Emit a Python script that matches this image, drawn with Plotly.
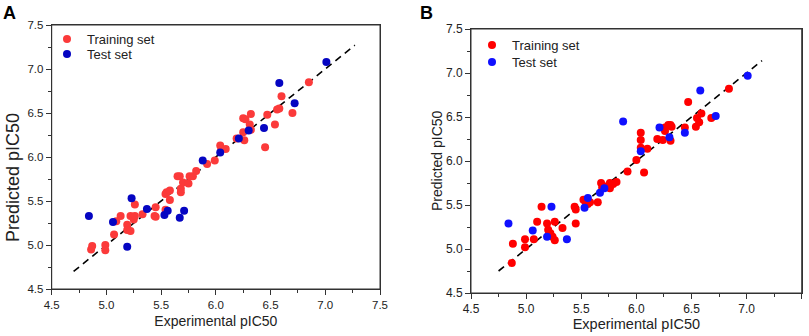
import plotly.graph_objects as go

# ---------------- Panel A data ----------------
train_exp_A = [4.86, 4.87, 4.99, 4.99, 5.07, 5.09, 5.13, 5.19, 5.19, 5.22, 5.22, 5.25, 5.26, 5.26,
               5.33, 5.44, 5.45, 5.45, 5.54, 5.55, 5.58, 5.58, 5.54, 5.65, 5.67, 5.68, 5.68, 5.70,
               5.75, 5.76, 5.79, 5.82, 5.92, 5.99, 6.04, 6.05, 6.09, 6.19, 6.25, 6.27, 6.26, 6.25,
               6.31, 6.32, 6.32, 6.45, 6.47, 6.54, 6.56, 6.58, 6.60, 6.70, 6.85]
train_pred_A = [4.95, 4.99, 5.00, 4.94, 5.12, 5.27, 5.33, 5.23, 5.17, 5.16, 5.33, 5.29, 5.33, 5.46,
                5.35, 5.33, 5.43, 5.32, 5.58, 5.60, 5.62, 5.51, 5.40, 5.78, 5.78, 5.64, 5.60, 5.71,
                5.70, 5.78, 5.78, 5.84, 5.92, 5.96, 6.13, 6.09, 6.09, 6.21, 6.44, 6.43, 6.19, 6.28,
                6.37, 6.49, 6.31, 6.11, 6.48, 6.37, 6.54, 6.55, 6.69, 6.50, 6.85]
test_exp_A = [4.84, 5.06, 5.19, 5.23, 5.37, 5.53, 5.56, 5.67, 5.71, 5.88, 6.04, 6.21, 6.30, 6.44,
              6.58, 6.72, 7.01]
test_pred_A = [5.33, 5.26, 4.98, 5.53, 5.41, 5.34, 5.39, 5.31, 5.39, 5.96, 6.05, 6.21, 6.30, 6.33,
               6.84, 6.61, 7.08]
line_A = [4.70, 7.27]

# ---------------- Panel B data ----------------
train_exp_B = [4.87, 4.88, 4.99, 4.99, 5.07, 5.10, 5.14, 5.19, 5.20, 5.22, 5.24, 5.26, 5.26, 5.33,
               5.44, 5.45, 5.45, 5.52, 5.54, 5.56, 5.58, 5.65, 5.68, 5.69, 5.72, 5.76, 5.76, 5.79,
               5.82, 5.92, 6.00, 6.04, 6.04, 6.04, 6.07, 6.10, 6.19, 6.24, 6.26, 6.26, 6.29, 6.31,
               6.32, 6.31, 6.44, 6.47, 6.54, 6.55, 6.57, 6.59, 6.68, 6.84]
train_pred_B = [4.84, 5.06, 5.11, 5.02, 5.11, 5.31, 5.48, 5.29, 5.22, 5.18, 5.14, 5.10, 5.31, 5.24,
                5.48, 5.45, 5.29, 5.56, 5.53, 5.51, 5.53, 5.53, 5.75, 5.70, 5.71, 5.75, 5.69, 5.74,
                5.76, 5.88, 6.01, 6.32, 6.24, 6.15, 5.87, 6.14, 6.25, 6.24, 6.34, 6.38, 6.41, 6.41,
                6.39, 6.23, 6.38, 6.67, 6.39, 6.49, 6.44, 6.54, 6.49, 6.82]
test_exp_B = [4.84, 5.06, 5.19, 5.23, 5.37, 5.53, 5.56, 5.67, 5.71, 5.88, 6.04, 6.21, 6.30, 6.44,
              6.58, 6.72, 7.01]
test_pred_B = [5.29, 5.21, 5.14, 5.48, 5.11, 5.47, 5.58, 5.64, 5.69, 6.45, 6.11, 6.38, 6.27, 6.32,
               6.80, 6.51, 6.97]
line_B = [4.75, 7.14]

axis_ticks = [4.5, 5.0, 5.5, 6.0, 6.5, 7.0, 7.5]
tick_text = ["4.5", "5.0", "5.5", "6.0", "6.5", "7.0", "7.5"]

FONT = "Liberation Sans, Arial, sans-serif"
W, H = 809, 336

fig = go.Figure()

# Panel A
fig.add_trace(go.Scatter(x=line_A, y=line_A, mode="lines", showlegend=False,
                         line=dict(color="black", width=1.6, dash="7px,5px"),
                         xaxis="x", yaxis="y"))
fig.add_trace(go.Scatter(x=train_exp_A, y=train_pred_A, mode="markers", name="Training set",
                         marker=dict(color="#fb3a3a", size=8), xaxis="x", yaxis="y",
                         legend="legend"))
fig.add_trace(go.Scatter(x=test_exp_A, y=test_pred_A, mode="markers", name="Test set",
                         marker=dict(color="#0505c2", size=8), xaxis="x", yaxis="y",
                         legend="legend2"))

# Panel B
fig.add_trace(go.Scatter(x=line_B, y=line_B, mode="lines", showlegend=False,
                         line=dict(color="black", width=1.6, dash="7px,5px"),
                         xaxis="x2", yaxis="y2"))
fig.add_trace(go.Scatter(x=train_exp_B, y=train_pred_B, mode="markers", name="Training set",
                         marker=dict(color="#ff0000", size=8), xaxis="x2", yaxis="y2",
                         legend="legend3"))
fig.add_trace(go.Scatter(x=test_exp_B, y=test_pred_B, mode="markers", name="Test set",
                         marker=dict(color="#1010ff", size=8), xaxis="x2", yaxis="y2",
                         legend="legend4"))


def px_x(p):
    return p / W


def px_y(p):
    return 1 - p / H


def axis_common(tick_size, title="", title_size=14, standoff=6):
    return dict(
        range=[4.5, 7.5], tickvals=axis_ticks, ticktext=tick_text,
        ticks="outside", ticklen=5, tickwidth=1, tickcolor="#333",
        minor=dict(dtick=0.25, tick0=4.5, ticks="outside", ticklen=3, tickcolor="#333"),
        showline=True, linecolor="#333", linewidth=1, mirror=True,
        showgrid=False, zeroline=False, automargin=False,
        tickfont=dict(family=FONT, size=tick_size, color="#222"),
        title=dict(text=title, font=dict(family=FONT, size=title_size, color="#222"),
                   standoff=standoff),
    )


xa = axis_common(11.5, "Experimental pIC50", 14)
xa.update(domain=[px_x(51.7), px_x(380)], anchor="y")
ya = axis_common(11.5)
ya.update(domain=[px_y(289), px_y(25)], anchor="x")
xb = axis_common(12, "Experimental pIC50", 14.5, 2)
xb.update(domain=[px_x(471), px_x(801.7)], anchor="y2")
yb = axis_common(12)
yb.update(domain=[px_y(293), px_y(29)], anchor="x2")

legend_style = dict(font=dict(family=FONT, size=13, color="#222"), bgcolor="rgba(0,0,0,0)",
                    itemwidth=30, tracegroupgap=0, xanchor="left", yanchor="top")

fig.update_layout(
    width=W, height=H,
    margin=dict(l=0, r=0, t=0, b=0, autoexpand=False),
    paper_bgcolor="white", plot_bgcolor="white",
    xaxis=xa, yaxis=ya, xaxis2=xb, yaxis2=yb,
    legend=dict(x=px_x(47), y=px_y(24), **legend_style),
    legend2=dict(x=px_x(47), y=px_y(39), **legend_style),
    legend3=dict(x=px_x(472), y=px_y(30), **legend_style),
    legend4=dict(x=px_x(472), y=px_y(47), **legend_style),
    shapes=[
        dict(type="rect", xref="x domain", yref="y domain", x0=0, x1=1, y0=0, y1=1,
             line=dict(color="#333", width=1), layer="above"),
        dict(type="rect", xref="x2 domain", yref="y2 domain", x0=0, x1=1, y0=0, y1=1,
             line=dict(color="#333", width=1), layer="above"),
    ],
    annotations=[
        dict(text="<b>A</b>", x=px_x(1), y=px_y(1), xref="paper", yref="paper",
             xanchor="left", yanchor="top", showarrow=False,
             font=dict(family=FONT, size=18, color="black")),
        dict(text="<b>B</b>", x=px_x(418), y=px_y(1), xref="paper", yref="paper",
             xanchor="left", yanchor="top", showarrow=False,
             font=dict(family=FONT, size=18, color="black")),
        dict(text="Predicted pIC50", x=px_x(13), y=px_y(178), xref="paper", yref="paper",
             xanchor="center", yanchor="middle", textangle=-90, showarrow=False,
             font=dict(family=FONT, size=18, color="#222")),
        dict(text="Predicted pIC50", x=px_x(437), y=px_y(161), xref="paper", yref="paper",
             xanchor="center", yanchor="middle", textangle=-90, showarrow=False,
             font=dict(family=FONT, size=14, color="#222")),
    ],
)

fig.write_html("out.html", config={"displayModeBar": False},
               post_script="document.body.style.margin='0';document.body.style.overflow='hidden';")
